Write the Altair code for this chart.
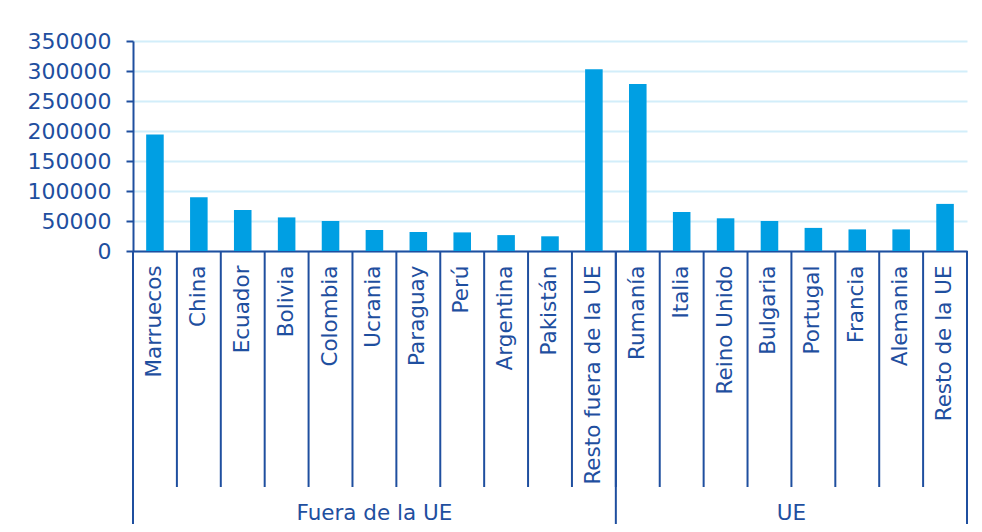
import altair as alt
import pandas as pd

categories = ["Marruecos", "China", "Ecuador", "Bolivia", "Colombia", "Ucrania",
              "Paraguay", "Perú", "Argentina", "Pakistán", "Resto fuera de la UE",
              "Rumanía", "Italia", "Reino Unido", "Bulgaria", "Portugal", "Francia",
              "Alemania", "Resto de la UE"]
values = [194000, 89500, 68500, 56000, 50000, 35000, 31700, 31000, 26500, 24500,
          303000, 278500, 65000, 54500, 50000, 38500, 36000, 36000, 78500]
group_names = ["Fuera de la UE", "UE"]
group_sizes = [11, 8]
y_ticks = [0, 50000, 100000, 150000, 200000, 250000, 300000, 350000]

DARK = "#1F4F9F"
BAR = "#009FE3"
GRID = "#D2EEFA"
FONT = "DejaVu Sans"

W, H = 834, 210

df = pd.DataFrame({"cat": categories, "val": values})

# group table
rows = []
start = 0
for name, n in zip(group_names, group_sizes):
    first = categories[start]
    last = categories[start + n - 1]
    if n % 2 == 1:
        center, pos = categories[start + n // 2], 0.5
    else:
        center, pos = categories[start + n // 2], 0.0
    rows.append({"cat": first, "name": name, "last": last, "center": center, "pos": pos})
    start += n
gdf = pd.DataFrame(rows)

x_scale = alt.Scale(domain=categories, paddingInner=0, paddingOuter=0)
x_axis = alt.Axis(labelAngle=-90, labelPadding=14, ticks=False, grid=False,
                  domainColor=DARK, domainWidth=2, labelColor=DARK,
                  labelFont=FONT, labelFontSize=21.5, labelLimit=0,
                  labelAlign="right", labelBaseline="middle")

bars = alt.Chart(df).mark_bar(width={"band": 0.4}, color=BAR).encode(
    x=alt.X("cat:N", sort=categories, scale=x_scale, title=None, axis=x_axis),
    y=alt.Y("val:Q", scale=alt.Scale(domain=[0, 350000], nice=False), title=None,
            axis=alt.Axis(values=y_ticks, format="d", grid=True, gridColor=GRID,
                          gridWidth=2, domainColor=DARK, domainWidth=2,
                          tickColor=DARK, tickWidth=2, tickSize=7, labelPadding=15,
                          labelColor=DARK, labelFont=FONT, labelFontSize=22)),
)

sep = alt.Chart(df).mark_rule(color=DARK, strokeWidth=2).encode(
    x=alt.X("cat:N", sort=categories, scale=x_scale, bandPosition=0, title=None, axis=x_axis),
    y=alt.value(H), y2=alt.value(H + 236),
)

grp_left = alt.Chart(gdf).mark_rule(color=DARK, strokeWidth=2).encode(
    x=alt.X("cat:N", scale=x_scale, bandPosition=0, title=None, axis=x_axis),
    y=alt.value(H), y2=alt.value(H + 300),
)

grp_right = alt.Chart(gdf.tail(1)).mark_rule(color=DARK, strokeWidth=2).encode(
    x=alt.X("last:N", scale=x_scale, bandPosition=1, title=None, axis=x_axis),
    y=alt.value(H), y2=alt.value(H + 300),
)

lab_mid = alt.Chart(gdf[gdf["pos"] == 0.5]).mark_text(
    font=FONT, fontSize=21.5, color=DARK, baseline="middle", align="center").encode(
    x=alt.X("center:N", scale=x_scale, bandPosition=0.5, title=None, axis=x_axis),
    y=alt.value(H + 263), text="name:N",
)
lab_edge = alt.Chart(gdf[gdf["pos"] == 0.0]).mark_text(
    font=FONT, fontSize=21.5, color=DARK, baseline="middle", align="center").encode(
    x=alt.X("center:N", scale=x_scale, bandPosition=0, title=None, axis=x_axis),
    y=alt.value(H + 263), text="name:N",
)

chart = alt.layer(bars, sep, grp_left, grp_right, lab_mid, lab_edge).properties(
    width=W, height=H,
    autosize=alt.AutoSizeParams(type="none"),
    padding={"left": 125, "top": 33, "right": 7, "bottom": 273},
    background="white",
).configure_view(stroke=None)

chart.save("out.html", embed_options={"renderer": "svg", "actions": False})
